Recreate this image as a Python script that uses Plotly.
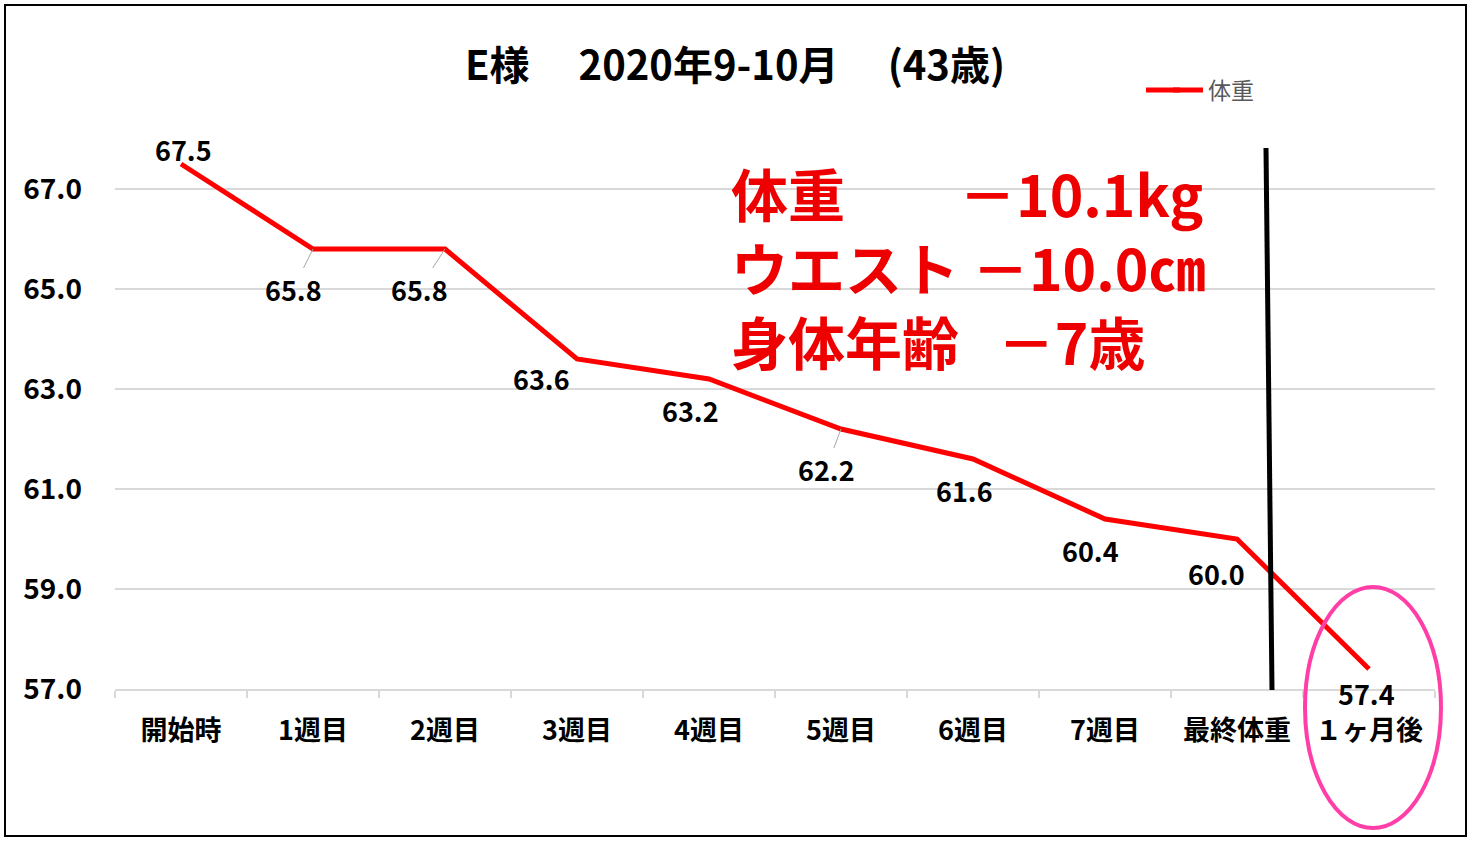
import plotly.graph_objects as go

categories = ["開始時", "1週目", "2週目", "3週目", "4週目", "5週目", "6週目", "7週目", "最終体重", "１ヶ月後"]
weights = [67.5, 65.8, 65.8, 63.6, 63.2, 62.2, 61.6, 60.4, 60.0, 57.4]
y_ticks = [57, 59, 61, 63, 65, 67]
series_name = "体重"
title_text = "E様　 2020年9-10月　 (43歳)"
summary_labels = ["体重", "ウエスト", "身体年齢"]
summary_values = ["－10.1kg", "－10.0㎝", "－7歳"]
summary_gaps = ["\u3000\u3000", "\u00a0", "\u00a0\u00a0\u00a0"]

# label offsets in pixels (dx, dy up-positive) and whether a leader line is drawn
label_dx = [2, -20, -26, -36, -19, -15, -9, -15, -21, -3]
label_dy = [15, -40, -40, -19, -31, -40, -31, -31, -34, -24]
leader = [False, True, True, False, False, True, False, False, False, False]

W, H = 1472, 846
L, R, T, B = 115, 37, 139, 157
PW = W - L - R
PH = H - T - B


def px(x):
    return (x - L) / PW


def py(y):
    return (H - B - y) / PH


FONT = "Noto Sans CJK JP"

fig = go.Figure()
fig.add_trace(go.Scatter(
    x=categories, y=weights, mode="lines", name=series_name,
    line=dict(color="#FF0000", width=5, shape="linear"),
    showlegend=True, hoverinfo="x+y",
))

annotations = []
for i, (c, v) in enumerate(zip(categories, weights)):
    if leader[i]:
        annotations.append(dict(
            x=c, y=v, xref="x", yref="y", text=f"<b>{v:.1f}</b>",
            showarrow=True, arrowhead=0, arrowwidth=1, arrowcolor="#A6A6A6",
            ax=label_dx[i], ay=-label_dy[i], standoff=0,
            font=dict(family=FONT, size=27, color="#000000"),
        ))
    else:
        annotations.append(dict(
            x=c, y=v, xref="x", yref="y", text=f"<b>{v:.1f}</b>",
            showarrow=False, xshift=label_dx[i], yshift=label_dy[i],
            font=dict(family=FONT, size=27, color="#000000"),
        ))

summary_text = "<br>".join(
    f"<b>{lab}{gap}{val}</b>" for lab, gap, val in zip(summary_labels, summary_gaps, summary_values)
)
annotations.append(dict(
    x=px(729), y=py(266), xref="paper", yref="paper", xanchor="left", yanchor="middle",
    text=summary_text, showarrow=False, align="left",
    font=dict(family=FONT, size=57, color="#EE0000"),
))

shapes = [
    # outer frame
    dict(type="rect", xref="paper", yref="paper", x0=px(5), x1=px(1466), y0=py(836), y1=py(5),
         line=dict(color="#000000", width=2), fillcolor="rgba(0,0,0,0)", layer="below"),
    # vertical black divider
    dict(type="line", xref="paper", yref="paper", x0=px(1266), y0=py(148), x1=px(1272), y1=py(690),
         line=dict(color="#000000", width=5)),
    # pink ellipse
    dict(type="circle", xref="paper", yref="paper", x0=px(1305), x1=px(1441), y0=py(828), y1=py(587),
         line=dict(color="#FF3FA7", width=4), fillcolor="rgba(0,0,0,0)"),
    # legend swatch extension
    dict(type="line", xref="paper", yref="paper", x0=px(1146), x1=px(1180), y0=py(90), y1=py(90),
         line=dict(color="#FF0000", width=5)),
]

fig.update_layout(
    width=W, height=H,
    margin=dict(l=L, r=R, t=T, b=B),
    paper_bgcolor="#FFFFFF", plot_bgcolor="#FFFFFF",
    title=dict(text=f"<b>{title_text}</b>", x=735 / W, xanchor="center", y=1 - 66 / H, yanchor="middle",
               yref="container", font=dict(family=FONT, size=40, color="#000000")),
    xaxis=dict(
        type="category", categoryorder="array", categoryarray=categories,
        range=[-0.5, len(categories) - 0.5],
        showgrid=False, showline=True, linecolor="#D9D9D9", linewidth=2,
        ticks="outside", tickson="boundaries", ticklen=7, tickcolor="#D9D9D9", tickwidth=2,
        tickfont=dict(family=FONT, size=27, color="#000000"),
        ticklabelstandoff=17, zeroline=False, fixedrange=True,
        tickvals=categories, ticktext=[f"<b>{c}</b>" for c in categories],
    ),
    yaxis=dict(
        range=[57, 68], tickvals=y_ticks, ticktext=[f"<b>{t:.1f}</b>" for t in y_ticks],
        showgrid=True, gridcolor="#D9D9D9", gridwidth=2, zeroline=False, showline=False,
        ticks="", tickfont=dict(family=FONT, size=28, color="#000000"), ticklabelstandoff=32,
        fixedrange=True,
    ),
    legend=dict(x=px(1168), y=py(90), xanchor="left", yanchor="middle",
                font=dict(family=FONT, size=23, color="#595959"), bgcolor="rgba(0,0,0,0)"),
    annotations=annotations,
    shapes=shapes,
    showlegend=True,
)

fig.write_html("out.html", config={"displayModeBar": False},
               post_script="document.body.style.margin='0';")
